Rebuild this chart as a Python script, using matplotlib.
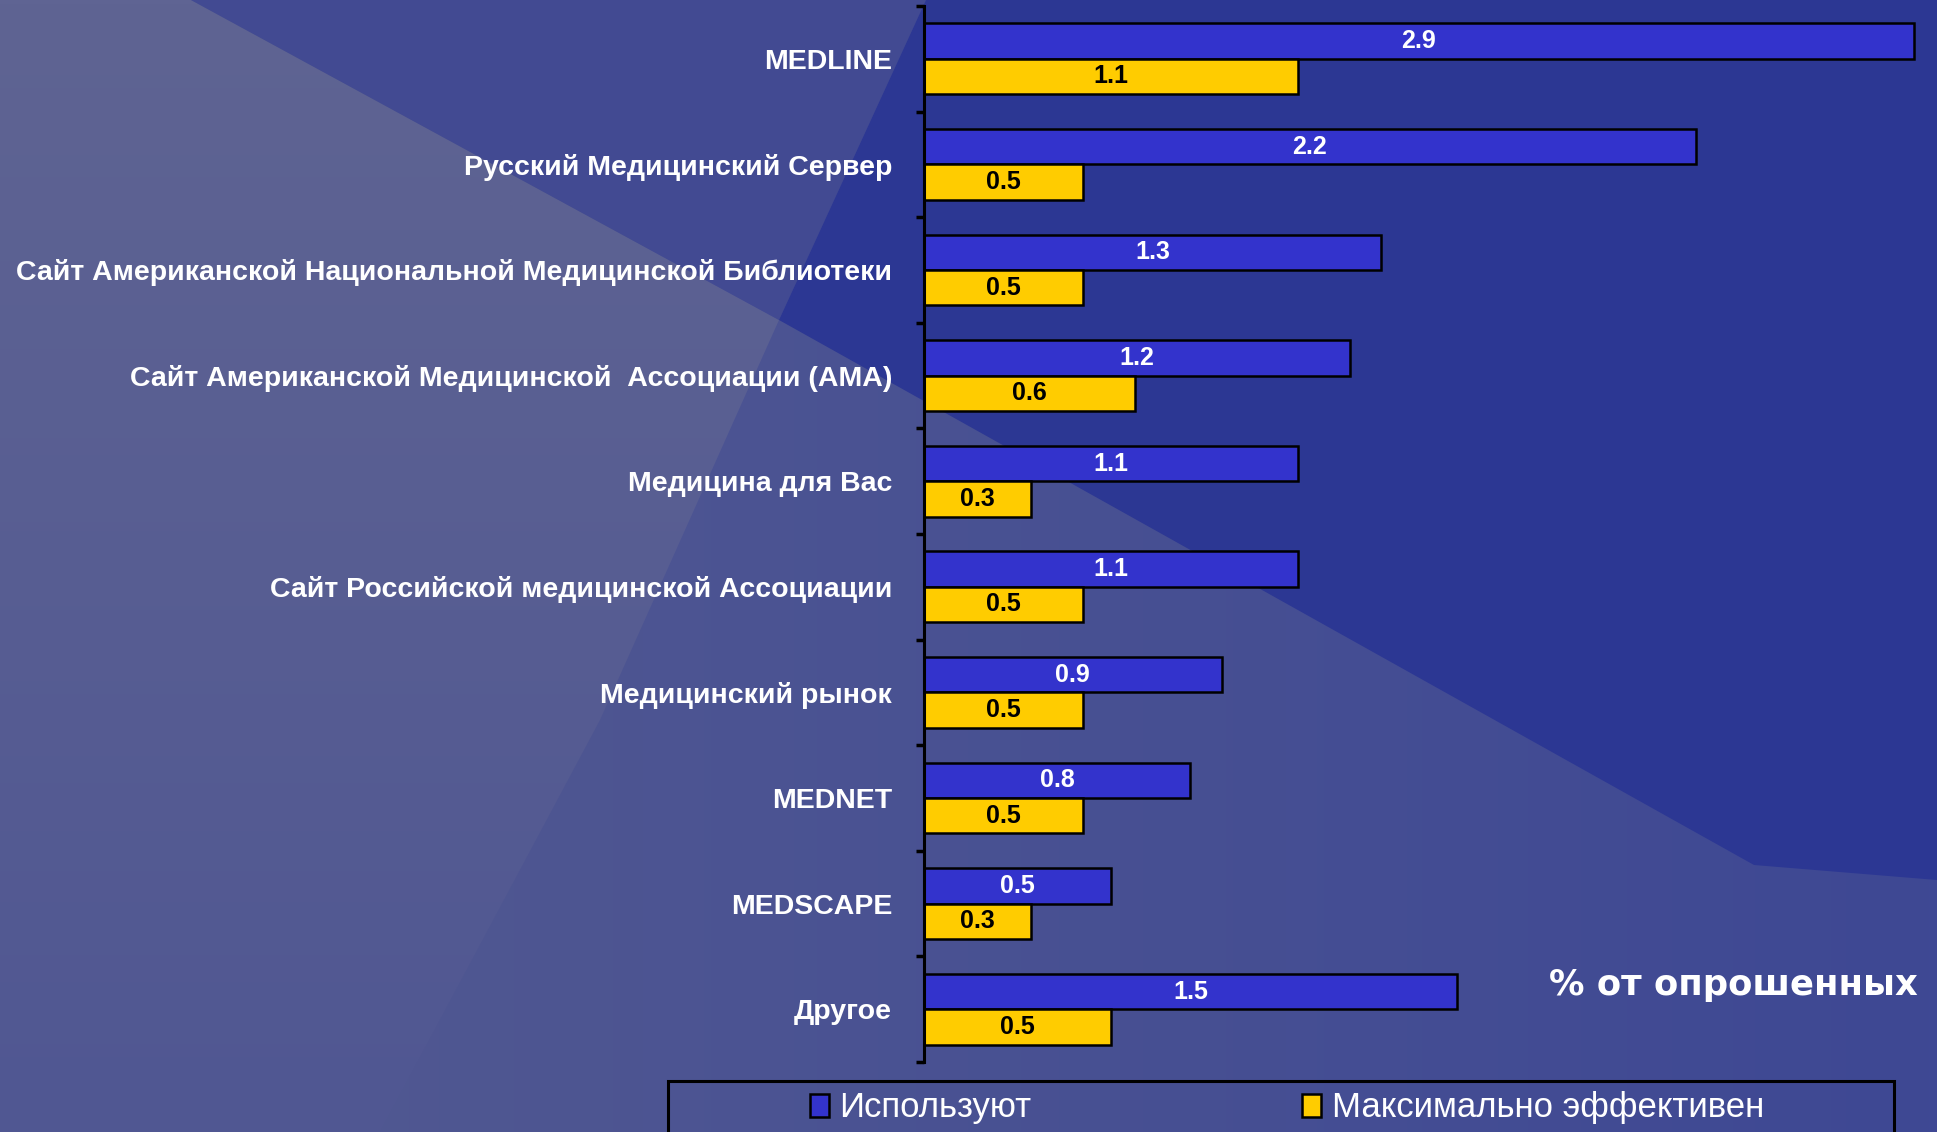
import numpy as np
import matplotlib
matplotlib.use("Agg")
import matplotlib.pyplot as plt
from matplotlib.patches import Polygon, Rectangle

plt.rcParams['font.family'] = ['Liberation Sans', 'DejaVu Sans']

categories = ['MEDLINE',
              'Русский Медицинский Сервер',
              'Сайт Американской Национальной Медицинской Библиотеки',
              'Сайт Американской Медицинской  Ассоциации (АМА)',
              'Медицина для Вас',
              'Сайт Российской медицинской Ассоциации',
              'Медицинский рынок',
              'MEDNET',
              'MEDSCAPE',
              'Другое']
used      = [2.86, 2.23, 1.32, 1.23, 1.08, 1.08, 0.86, 0.77, 0.54, 1.54]
effective = [1.08, 0.46, 0.46, 0.61, 0.31, 0.46, 0.46, 0.46, 0.31, 0.54]
series_names = ['Используют', 'Максимально эффективен']
unit_label = '% от опрошенных'

W, H = 1937, 1132
fig = plt.figure(figsize=(W / 100, H / 100), dpi=100)

### slide background (decorative shapes, pixel coords)
bg = fig.add_axes([0, 0, 1, 1], zorder=0)
bg.set_xlim(0, W)
bg.set_ylim(H, 0)
bg.axis('off')
left_c = np.array([84, 91, 145]) / 255
right_c = np.array([62, 72, 148]) / 255
t = np.linspace(0, 1, 256)[None, :, None]
grad = left_c * (1 - t) + right_c * t
bg.imshow(np.repeat(grad, 2, axis=0), extent=(0, W, H, 0), aspect='auto')

# lighter grey wedge on the left, fading downwards
top_c = np.array([95, 100, 147]) / 255
bot_c = np.array([80, 87, 146]) / 255
tv = np.linspace(0, 1, 256)[:, None, None]
vgrad = top_c * (1 - tv) + bot_c * tv
light = Polygon([(0, 0), (191, 0), (779, 320), (600, 720), (380, 1132), (0, 1132)],
                closed=True, facecolor='none', lw=0)
bg.add_patch(light)
im = bg.imshow(np.repeat(vgrad, 2, axis=1), extent=(0, W, H, 0), aspect='auto')
im.set_clip_path(light)

bg.add_patch(Polygon([(191, 0), (926, 0), (779, 320)],
                     closed=True, color='#424a92', lw=0))
bg.add_patch(Polygon([(926, 0), (W, 0), (W, 880), (1754, 865), (779, 320)],
                     closed=True, color='#2c3793', lw=0))
bg.set_xlim(0, W)
bg.set_ylim(H, 0)

### chart
ax = fig.add_axes([924 / W, 1 - 1062 / H, 1 - 924 / W, (1062 - 6) / H], zorder=1)
ax.patch.set_alpha(0)

y = np.arange(len(categories))
h = 0.335
blue = '#3333cc'
yellow = '#ffcc00'
b1 = ax.barh(y - h / 2, used, height=h, color=blue, edgecolor='black', linewidth=1.8)
b2 = ax.barh(y + h / 2, effective, height=h, color=yellow, edgecolor='black', linewidth=1.8)

for yi, v in zip(y, used):
    ax.text(v / 2, yi - h / 2, f'{v:.1f}', ha='center', va='center', color='white',
            fontsize=18, fontweight='bold')
for yi, v in zip(y, effective):
    ax.text(v / 2, yi + h / 2, f'{v:.1f}', ha='center', va='center', color='black',
            fontsize=18, fontweight='bold')

ax.set_xlim(0, (W - 924) / 346)
ax.set_ylim(len(categories) - 0.5, -0.5)

ax.set_yticks(y)
ax.set_yticklabels(categories, color='white', fontsize=20.5, fontweight='bold')
ax.set_yticks(np.arange(len(categories) + 1) - 0.5, minor=True)
ax.tick_params(axis='y', which='major', length=0, pad=23)
ax.tick_params(axis='y', which='minor', length=6, width=2.5, color='black', direction='out')
ax.set_xticks([])
for s in ['top', 'right', 'bottom']:
    ax.spines[s].set_visible(False)
ax.spines['left'].set_linewidth(2.2)
ax.spines['left'].set_color('black')

fig.text(1918 / W, 1 - 985 / H, unit_label, ha='right', va='center', color='white',
         fontsize=25.5, fontweight='bold', family='DejaVu Sans')

### legend, box runs off the bottom of the slide
fig.patches.append(Rectangle((668 / W, -0.02), (1894 - 668) / W, (H - 1081) / H + 0.02,
                             transform=fig.transFigure, fill=False,
                             edgecolor='black', linewidth=2.2, zorder=2))
fig.legend([b1, b2], series_names, loc='center',
           bbox_to_anchor=(1287 / W, 1 - 1108 / H), ncol=2, frameon=False,
           columnspacing=7.8, handlelength=0.55, handleheight=0.65,
           handletextpad=0.3, fontsize=25, labelcolor='white')

fig.savefig('out.png', dpi=100)
